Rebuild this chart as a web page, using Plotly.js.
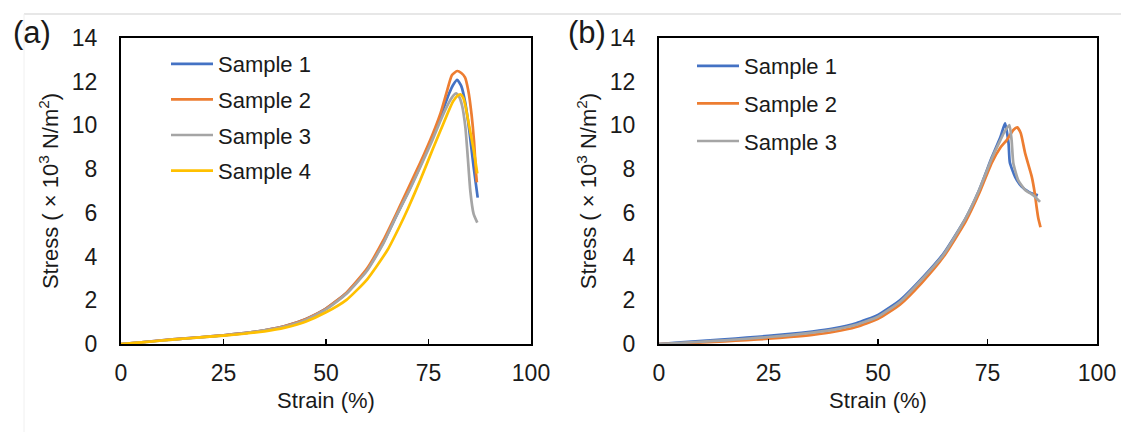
<!DOCTYPE html>
<html>
<head>
<meta charset="utf-8">
<script src="https://cdn.plot.ly/plotly-3.0.1.min.js"></script>
<style>html,body{margin:0;padding:0;background:#fff;}#chart{width:1121px;height:432px;}</style>
</head>
<body>
<div id="chart"></div>
<script>
// ---------- Panel (a) ----------
const a_s1_x = [0,5,10,15,20,25,30,35,40,45,50,55,60,64,67,70,73,76,78,80,81,82,83,84,85,86,87];
const a_s1_y = [0,0.08,0.17,0.25,0.32,0.40,0.50,0.63,0.82,1.13,1.62,2.33,3.4,4.65,5.8,6.95,8.15,9.5,10.45,11.45,11.85,12.08,11.8,11.0,9.7,8.1,6.7];
const a_s2_x = [0,5,10,15,20,25,30,35,40,45,50,55,60,64,67,70,73,76,78,79.4,80.7,82,83,83.9,84.7,85.5,86.1,86.6,86.8];
const a_s2_y = [0,0.08,0.17,0.25,0.32,0.40,0.50,0.63,0.82,1.13,1.62,2.35,3.45,4.75,5.9,7.1,8.3,9.6,10.6,11.5,12.3,12.49,12.4,12.2,11.6,10.5,9.3,7.8,7.4];
const a_s3_x = [0,5,10,15,20,25,30,35,40,45,50,55,60,64,67,70,73,76,78,80,81,81.7,82.5,83.2,84,84.6,85.2,86,86.9];
const a_s3_y = [0,0.07,0.16,0.24,0.31,0.39,0.49,0.62,0.80,1.10,1.58,2.3,3.35,4.6,5.8,6.9,8.1,9.35,10.25,11.05,11.35,11.47,11.3,10.9,9.9,8.5,7.0,5.95,5.55];
const a_s4_x = [0,5,10,15,20,25,30,35,40,45,50,55,60,65,68,70,73,76,78,80,81,82,82.8,83.5,84,85,86,86.9];
const a_s4_y = [0,0.07,0.16,0.24,0.31,0.38,0.47,0.58,0.75,1.02,1.45,2.02,2.95,4.3,5.4,6.2,7.5,8.9,9.8,10.7,11.1,11.35,11.42,11.25,10.9,9.9,8.9,7.8];

// ---------- Panel (b) ----------
const b_s1_x = [0,5,10,15,20,25,30,35,40,45,50,55,60,65,70,73,76,78,79,79.8,80.1,81.3,82.8,84.5,86.5];
const b_s1_y = [0,0.07,0.14,0.21,0.29,0.37,0.46,0.57,0.72,0.95,1.33,2.0,3.0,4.15,5.75,7.0,8.55,9.5,10.1,9.2,8.3,7.65,7.2,6.95,6.8];
const b_s2_x = [0,5,10,15,20,25,30,35,40,45,50,55,60,65,70,73,76,78,79.4,80.9,81.8,82.6,83.6,85.1,85.8,86.2,86.6,87.1];
const b_s2_y = [0,0.03,0.07,0.12,0.18,0.24,0.32,0.42,0.56,0.78,1.15,1.8,2.8,4.0,5.6,6.85,8.3,9.0,9.33,9.79,9.91,9.64,8.72,7.66,6.89,6.28,5.75,5.34];
const b_s3_x = [0,5,10,15,20,25,30,35,40,45,50,55,60,65,70,73,76,78,79,80,80.5,80.9,82,83.6,85.5,87];
const b_s3_y = [0,0.05,0.11,0.17,0.24,0.32,0.41,0.52,0.66,0.88,1.25,1.92,2.95,4.1,5.75,7.0,8.5,9.35,9.75,10.02,9.33,8.27,7.5,7.05,6.8,6.5];

const names = ['Sample 1','Sample 2','Sample 3','Sample 4'];
const colors = ['#4472C4','#ED7D31','#A5A5A5','#FFC000'];
const xTicks = [0,25,50,75,100];
const yTicks = [0,2,4,6,8,10,12,14];

const FONT = 'Liberation Sans, Arial, Helvetica, sans-serif';

function tr(x, y, i, xa, ya, leg) {
  return {x: x, y: y, name: names[i], type: 'scatter', mode: 'lines',
    xaxis: xa, yaxis: ya, legend: leg, legendgroup: leg + i,
    line: {color: colors[i], width: 2.7, shape: 'spline', smoothing: 0.5}};
}

const data = [
  tr(a_s1_x, a_s1_y, 0, 'x', 'y', 'legend'),
  tr(a_s2_x, a_s2_y, 1, 'x', 'y', 'legend'),
  tr(a_s3_x, a_s3_y, 2, 'x', 'y', 'legend'),
  tr(a_s4_x, a_s4_y, 3, 'x', 'y', 'legend'),
  tr(b_s1_x, b_s1_y, 0, 'x2', 'y2', 'legend2'),
  tr(b_s2_x, b_s2_y, 1, 'x2', 'y2', 'legend2'),
  tr(b_s3_x, b_s3_y, 2, 'x2', 'y2', 'legend2')
];

const W = 1121, H = 432;
function xax(dom) {
  return {domain: dom, range: [0,100], tickvals: xTicks, ticktext: xTicks.map(String),
    showline: true, mirror: true, linecolor: '#000', linewidth: 2,
    ticks: 'inside', ticklen: 5, tickwidth: 1.5, tickcolor: '#000',
    showgrid: false, zeroline: false, ticklabelstandoff: 7,
    tickfont: {size: 23, color: '#1a1a1a', family: FONT},
    title: {text: 'Strain (%)', font: {size: 22, color: '#1a1a1a', family: FONT}, standoff: 8}};
}
function yax(anchor) {
  return {domain: [1 - 344/H, 1 - 38/H], range: [0,14], tickvals: yTicks, ticktext: yTicks.map(String),
    anchor: anchor,
    showline: true, mirror: true, linecolor: '#000', linewidth: 2,
    ticks: '', showgrid: false, zeroline: false, ticklabelstandoff: 17,
    tickfont: {size: 23, color: '#1a1a1a', family: FONT},
    title: {text: 'Stress ( × 10<sup>3</sup> N/m<sup>2</sup>)', font: {size: 22, color: '#1a1a1a', family: FONT}, standoff: 7}};
}

const layout = {
  width: W, height: H,
  margin: {l: 0, r: 0, t: 0, b: 0},
  paper_bgcolor: '#fff', plot_bgcolor: '#fff',
  font: {family: FONT, color: '#1a1a1a'},
  xaxis: Object.assign(xax([121/W, 531/W]), {anchor: 'y'}),
  yaxis: yax('x'),
  xaxis2: Object.assign(xax([659/W, 1097/W]), {anchor: 'y2'}),
  yaxis2: yax('x2'),
  legend: {x: 166/W, xanchor: 'left', y: 1 - 43/H, yanchor: 'top', bgcolor: 'rgba(0,0,0,0)',
    font: {size: 22, family: FONT, color: '#1a1a1a'}, tracegroupgap: 4, itemwidth: 42, traceorder: 'grouped'},
  legend2: {x: 692/W, xanchor: 'left', y: 1 - 45/H, yanchor: 'top', bgcolor: 'rgba(0,0,0,0)',
    font: {size: 22, family: FONT, color: '#1a1a1a'}, tracegroupgap: 6, itemwidth: 42, traceorder: 'grouped'},
  annotations: [
    {text: '(a)', xref: 'paper', yref: 'paper', x: 32/W, y: 1 - 32/H, xanchor: 'center', yanchor: 'middle',
      showarrow: false, font: {size: 31, family: FONT, color: '#1a1a1a'}},
    {text: '(b)', xref: 'paper', yref: 'paper', x: 587/W, y: 1 - 32/H, xanchor: 'center', yanchor: 'middle',
      showarrow: false, font: {size: 31, family: FONT, color: '#1a1a1a'}}
  ],
  shapes: [
    {type: 'line', xref: 'paper', yref: 'paper', x0: 24/W, x1: 1, y0: 1 - 14/H, y1: 1 - 14/H,
      line: {color: '#cfcfcf', width: 1}},
    {type: 'line', xref: 'paper', yref: 'paper', x0: 24/W, x1: 24/W, y0: 0, y1: 1 - 14/H,
      line: {color: '#f0f0f0', width: 1}}
  ]
};

Plotly.newPlot('chart', data, layout, {staticPlot: true, displayModeBar: false});
</script>
</body>
</html>
